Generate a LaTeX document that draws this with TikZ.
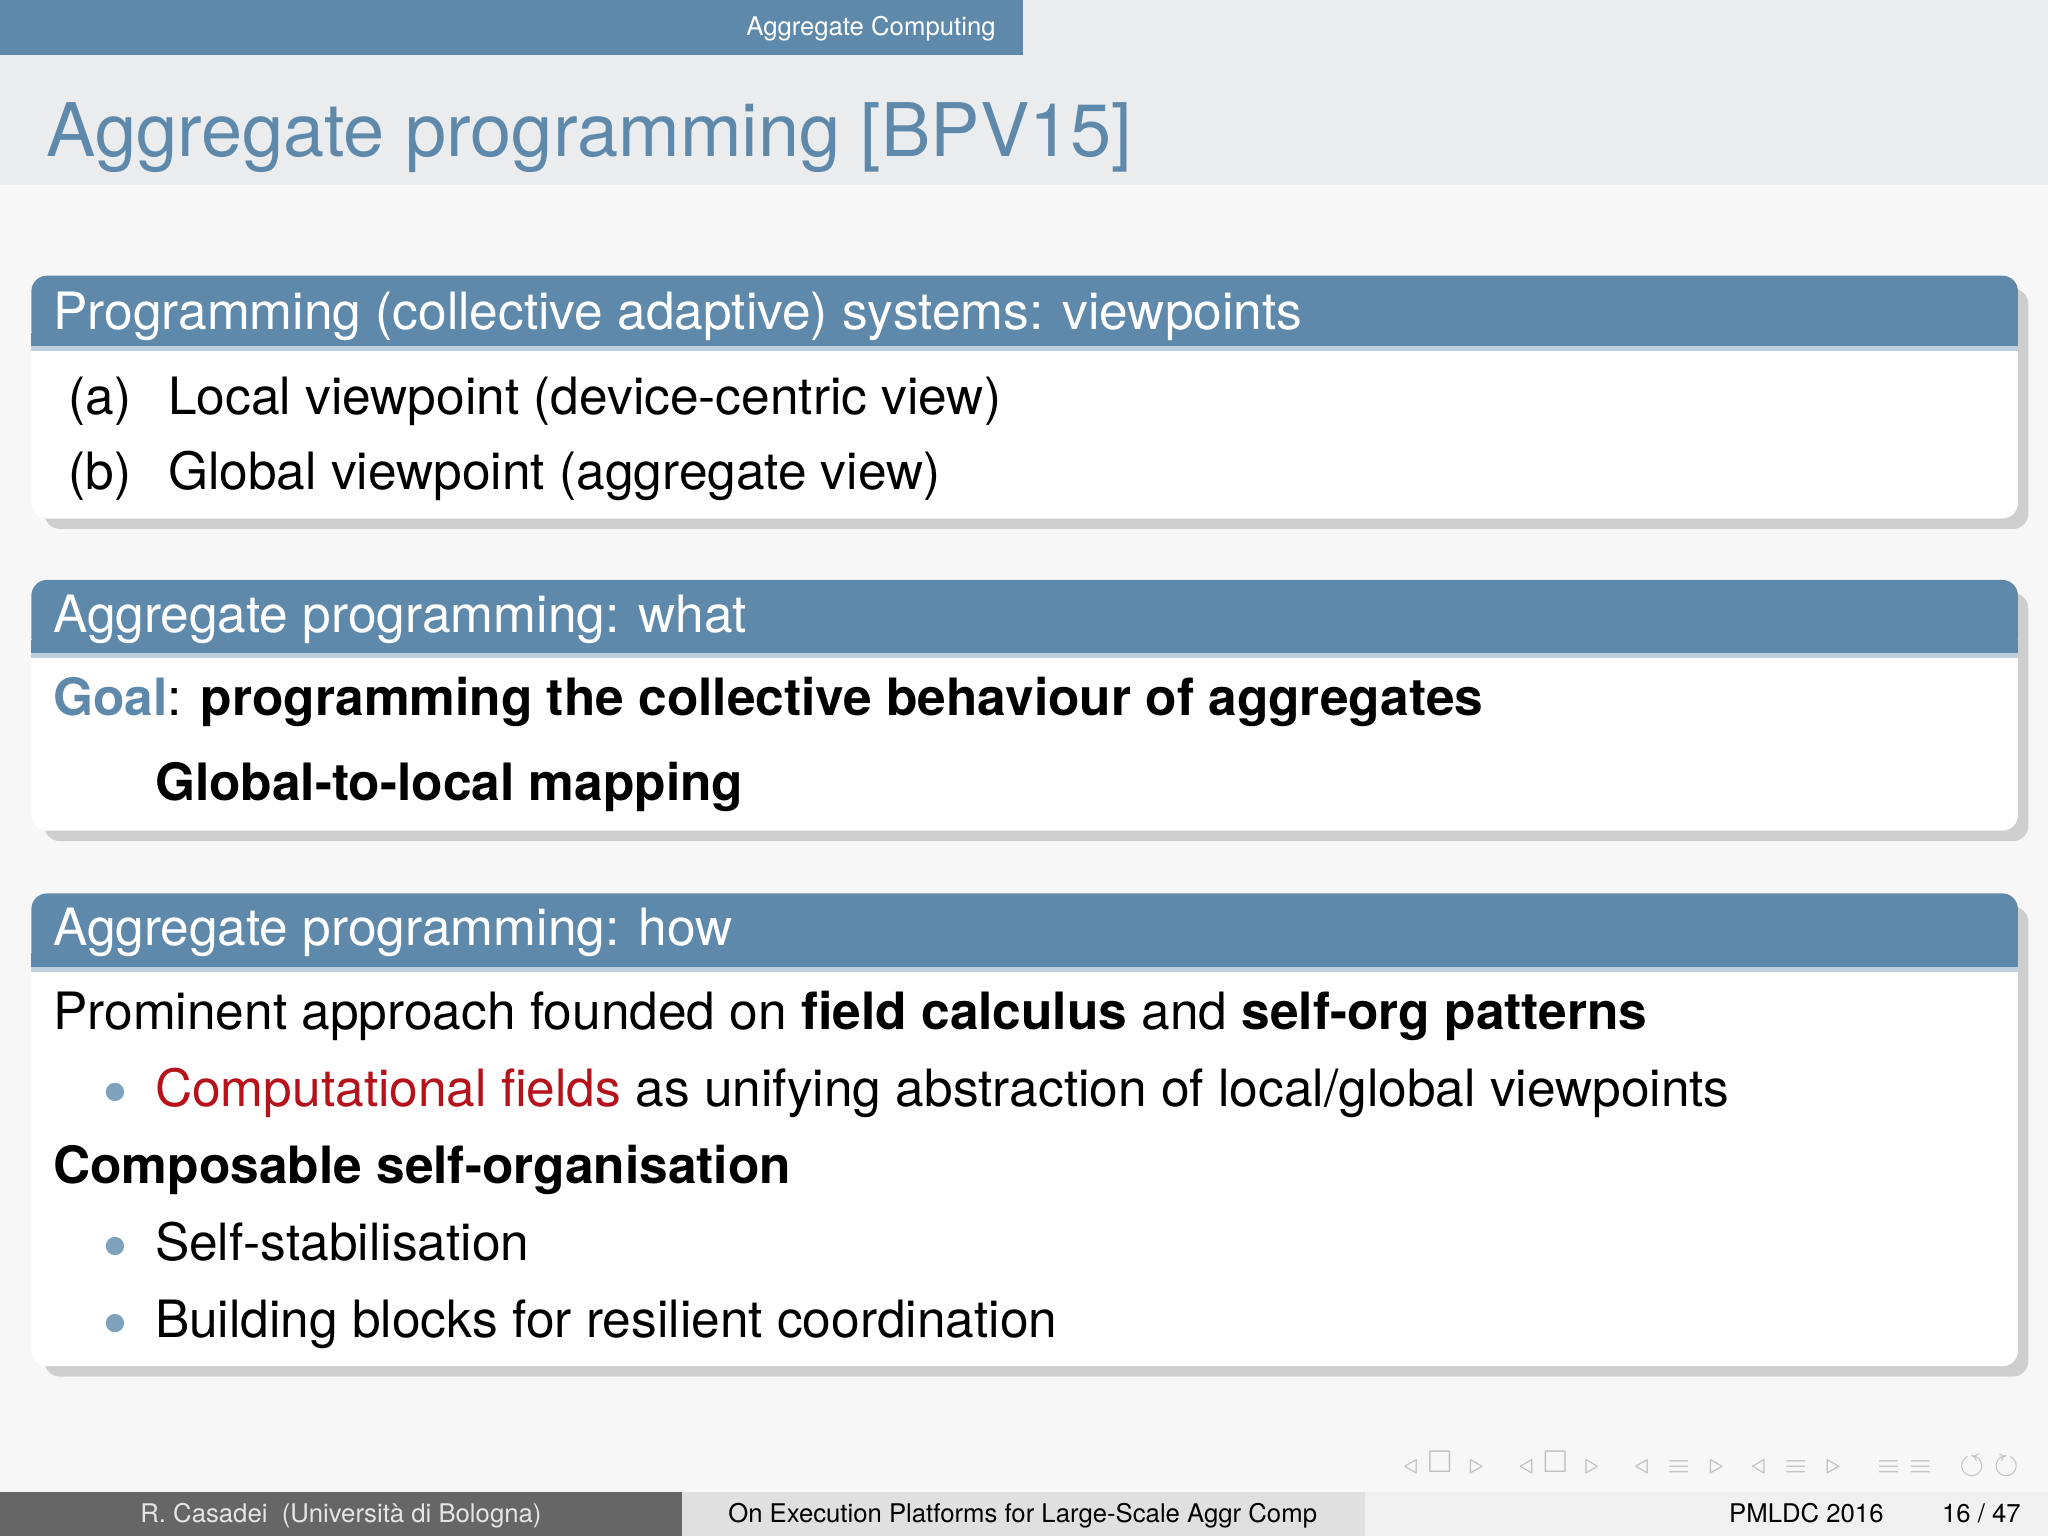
\documentclass[tikz,border=0pt]{standalone}
\usepackage{amssymb}
\usepackage{fontspec}
\setmainfont{TeX Gyre Heros}
\definecolor{bblue}{HTML}{5E89AB}
\definecolor{tgray}{HTML}{EBECEE}
\definecolor{bred}{HTML}{B5121B}
\tikzset{
 x=0.01cm,y=-0.01cm,
 hd/.style={anchor=base west,font=\fontsize{11.2}{13}\selectfont,text=white,inner sep=0},
 bd/.style={anchor=base west,font=\fontsize{11.2}{13}\selectfont,inner sep=0},
 bul/.style={circle,fill=bblue!80,minimum size=0.14cm,inner sep=0},
 ft/.style={font=\fontsize{5.6}{7}\selectfont,inner sep=0,anchor=base}
}
\newcommand{\blk}[3]{%
 \fill[black!35,opacity=0.5,rounded corners=0.12cm] (34,#1+10) rectangle (1553,#3+8);
 \fill[white,rounded corners=0.12cm] (24,#1) rectangle (1545,#3);
 \fill[bblue,rounded corners=0.12cm] (24,#1) rectangle (1545,#2);
 \fill[bblue] (24,#2-10) rectangle (1545,#2);
 \fill[bblue!40] (24,#2) rectangle (1545,#2+4);}
\begin{document}
\begin{tikzpicture}
\useasboundingbox (0,0) rectangle (1568,1176);
\fill[white!97!black] (0,0) rectangle (1568,1176);
\fill[tgray] (0,0) rectangle (1568,142);
\fill[bblue] (0,0) rectangle (783,42);
\node[ft,text=white,anchor=base east] (hdr) at (763,27) {Aggregate Computing};
\node[anchor=base west,inner sep=0,text=bblue,font=\fontsize{16.1}{19}\selectfont] (title) at (35,120) {Aggregate programming [BPV15]};
\blk{211}{265}{397}
\node[hd] (h1) at (40,252) {Programming (collective adaptive) systems: viewpoints};
\node[bd] (a1) at (52,317) {(a)\hspace{0.28cm}Local viewpoint (device-centric view)};
\node[bd] (b1) at (52,375) {(b)\hspace{0.28cm}Global viewpoint (aggregate view)};
\blk{444}{500}{636}
\node[hd] (h2) at (40,484) {Aggregate programming: what};
\node[bd] (g2) at (40,548) {\textcolor{bblue}{\bfseries Goal}: \bfseries programming the collective behaviour of aggregates};
\node[bd] (m2) at (118,613) {\bfseries Global-to-local mapping};
\blk{684}{740}{1046}
\node[hd] (h3) at (40,724) {Aggregate programming: how};
\node[bd] (l1) at (40,788) {Prominent approach founded on \textbf{field calculus} and \textbf{self-org patterns}};
\node[bul] (u1) at (88,836) {};
\node[bd] (l2) at (118,847) {\textcolor{bred}{Computational fields} as unifying abstraction of local/global viewpoints};
\node[bd] (l3) at (40,906) {\bfseries Composable self-organisation};
\node[bul] (u2) at (88,954) {};
\node[bd] (l4) at (118,965) {Self-stabilisation};
\node[bul] (u3) at (88,1013) {};
\node[bd] (l5) at (118,1024) {Building blocks for resilient coordination};
\node[anchor=center,text=black!25,font=\fontsize{5.5}{7}\selectfont] (nav) at (1310,1121) {$\triangleleft\ \square\ \triangleright\quad\triangleleft\ \square\ \triangleright\quad\triangleleft\ \equiv\ \triangleright\quad\triangleleft\ \equiv\ \triangleright\quad\equiv\ \equiv\quad \circlearrowleft\ \circlearrowright$};
\fill[black!60] (0,1142) rectangle (522,1176);
\fill[black!12] (522,1142) rectangle (1045,1176);
\fill[black!6] (1045,1142) rectangle (1568,1176);
\node[ft,text=white!90!black] (f1) at (261,1166) {R. Casadei\ \ (Università di Bologna)};
\node[ft] (f2) at (783,1166) {On Execution Platforms for Large-Scale Aggr Comp};
\node[ft] (f3) at (1383,1166) {PMLDC 2016};
\node[ft] (f4) at (1517,1166) {16 / 47};
\end{tikzpicture}
\end{document}
